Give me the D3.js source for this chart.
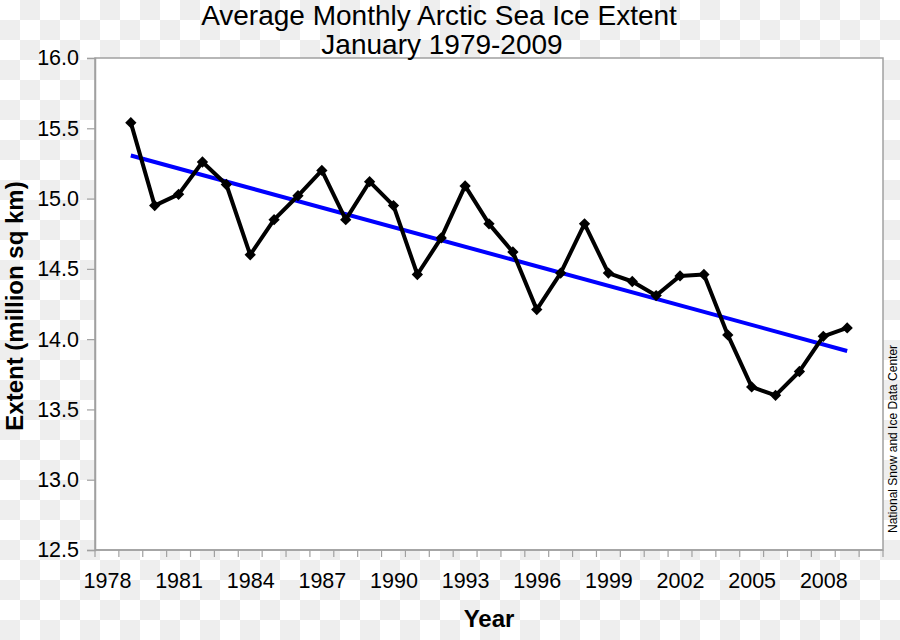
<!DOCTYPE html>
<html>
<head>
<meta charset="utf-8">
<script src="https://cdn.jsdelivr.net/npm/d3@7"></script>
<style>
  html, body { margin: 0; padding: 0; background: #fff; }
  svg { display: block; font-family: "Liberation Sans", Arial, Helvetica, sans-serif; }
</style>
</head>
<body>
<svg id="chart" width="900" height="640"></svg>
<script>
// ---- data ----
const years = [1979,1980,1981,1982,1983,1984,1985,1986,1987,1988,1989,1990,1991,1992,1993,1994,1995,1996,1997,1998,1999,2000,2001,2002,2003,2004,2005,2006,2007,2008,2009];
const extent = [15.54,14.95,15.03,15.26,15.10,14.60,14.85,15.02,15.20,14.85,15.12,14.95,14.46,14.72,15.09,14.82,14.62,14.21,14.47,14.82,14.47,14.41,14.31,14.45,14.46,14.03,13.66,13.60,13.77,14.02,14.08];
const xCategories = d3.range(1978, 2011);            // 1978 .. 2010 category bands
const xTickLabels = [1978,1981,1984,1987,1990,1993,1996,1999,2002,2005,2008];
const yTicks = [12.5,13.0,13.5,14.0,14.5,15.0,15.5,16.0];
const titleLines = ["Average Monthly Arctic Sea Ice Extent", "January 1979-2009"];
const xTitle = "Year";
const yTitle = "Extent (million sq km)";
const credit = "National Snow and Ice Data Center";

// ---- layout ----
const svg = d3.select("#chart");
const W = 900, H = 640;
const L = 95, R = 883, T = 58, B = 550;

// checkerboard background (transparent-image look)
const defs = svg.append("defs");
const pat = defs.append("pattern").attr("id","checker").attr("width",40).attr("height",40)
  .attr("patternUnits","userSpaceOnUse");
pat.append("rect").attr("width",40).attr("height",40).attr("fill","#ffffff");
pat.append("rect").attr("x",20).attr("y",0).attr("width",20).attr("height",20).attr("fill","#eeeeee");
pat.append("rect").attr("x",0).attr("y",20).attr("width",20).attr("height",20).attr("fill","#eeeeee");
svg.append("rect").attr("width",W).attr("height",H).attr("fill","url(#checker)");

// scales
const x = d3.scaleBand().domain(xCategories).range([L, R]).padding(0);
const xc = d => x(d) + x.bandwidth() / 2;
const y = d3.scaleLinear().domain([12.5, 16]).range([B, T]);

// plot area
svg.append("rect").attr("x",L).attr("y",T).attr("width",R-L).attr("height",B-T)
  .attr("fill","#ffffff").attr("stroke","#a0a0a0").attr("stroke-width",1.5);

// y axis
const yAxis = d3.axisLeft(y).tickValues(yTicks).tickFormat(d3.format(".1f")).tickSize(8).tickPadding(8);
const gy = svg.append("g").attr("transform",`translate(${L},0)`).call(yAxis);
gy.select(".domain").attr("stroke","#a0a0a0").attr("stroke-width",1.5);
gy.selectAll(".tick line").attr("stroke","#a0a0a0").attr("stroke-width",1.2);
gy.selectAll(".tick text").attr("font-size",21.5).attr("fill","#000")
  .attr("font-family","Liberation Sans, Arial, sans-serif");

// x axis: ticks at category boundaries, labels at category centres
const xAxisLabels = d3.axisBottom(d3.scalePoint().domain(xCategories).range([xc(1978), xc(2010)]))
  .tickValues(xTickLabels).tickSize(0).tickPadding(23);
const gx = svg.append("g").attr("transform",`translate(0,${B})`).call(xAxisLabels);
gx.select(".domain").remove();
gx.selectAll(".tick text").attr("font-size",21.5).attr("fill","#000")
  .attr("font-family","Liberation Sans, Arial, sans-serif");
const boundaries = xCategories.map(d => x(d)).concat([R]);
svg.append("g").selectAll("line").data(boundaries).join("line")
  .attr("x1",d=>d).attr("x2",d=>d).attr("y1",B).attr("y2",B+7)
  .attr("stroke","#a0a0a0").attr("stroke-width",1.2);
svg.append("line").attr("x1",L).attr("x2",R).attr("y1",B).attr("y2",B)
  .attr("stroke","#a0a0a0").attr("stroke-width",1.5);

// trend line (least squares fit of the series)
const n = years.length;
const mx = d3.mean(years), my = d3.mean(extent);
const slope = d3.sum(years.map((yr,i)=>(yr-mx)*(extent[i]-my))) / d3.sum(years.map(yr=>(yr-mx)*(yr-mx)));
const icpt = my - slope*mx;
const trendYears = [years[0], years[n-1]];
svg.append("line")
  .attr("x1", xc(trendYears[0])).attr("y1", y(icpt + slope*trendYears[0]))
  .attr("x2", xc(trendYears[1])).attr("y2", y(icpt + slope*trendYears[1]))
  .attr("stroke","#0000ff").attr("stroke-width",4);

// data line
const pts = years.map((yr,i)=>({yr, v: extent[i]}));
svg.append("path").datum(pts)
  .attr("d", d3.line().x(d=>xc(d.yr)).y(d=>y(d.v)))
  .attr("fill","none").attr("stroke","#000").attr("stroke-width",4).attr("stroke-linejoin","round");
svg.append("g").selectAll("path").data(pts).join("path")
  .attr("d", d3.symbol().type(d3.symbolSquare).size(64))
  .attr("transform", d=>`translate(${xc(d.yr)},${y(d.v)}) rotate(45)`)
  .attr("fill","#000");

// titles
svg.append("text").attr("x",439).attr("y",24.5).attr("text-anchor","middle")
  .attr("font-size",28).text(titleLines[0]);
svg.append("text").attr("x",442).attr("y",54).attr("text-anchor","middle")
  .attr("font-size",28).text(titleLines[1]);
svg.append("text").attr("x",(L+R)/2).attr("y",627).attr("text-anchor","middle")
  .attr("font-size",24).attr("font-weight","bold").text(xTitle);
svg.append("text").attr("transform","translate(23,306) rotate(-90)").attr("text-anchor","middle")
  .attr("font-size",24).attr("font-weight","bold").text(yTitle);
svg.append("text").attr("transform","translate(897,533) rotate(-90)").attr("text-anchor","start")
  .attr("font-size",12).text(credit);
</script>
</body>
</html>
